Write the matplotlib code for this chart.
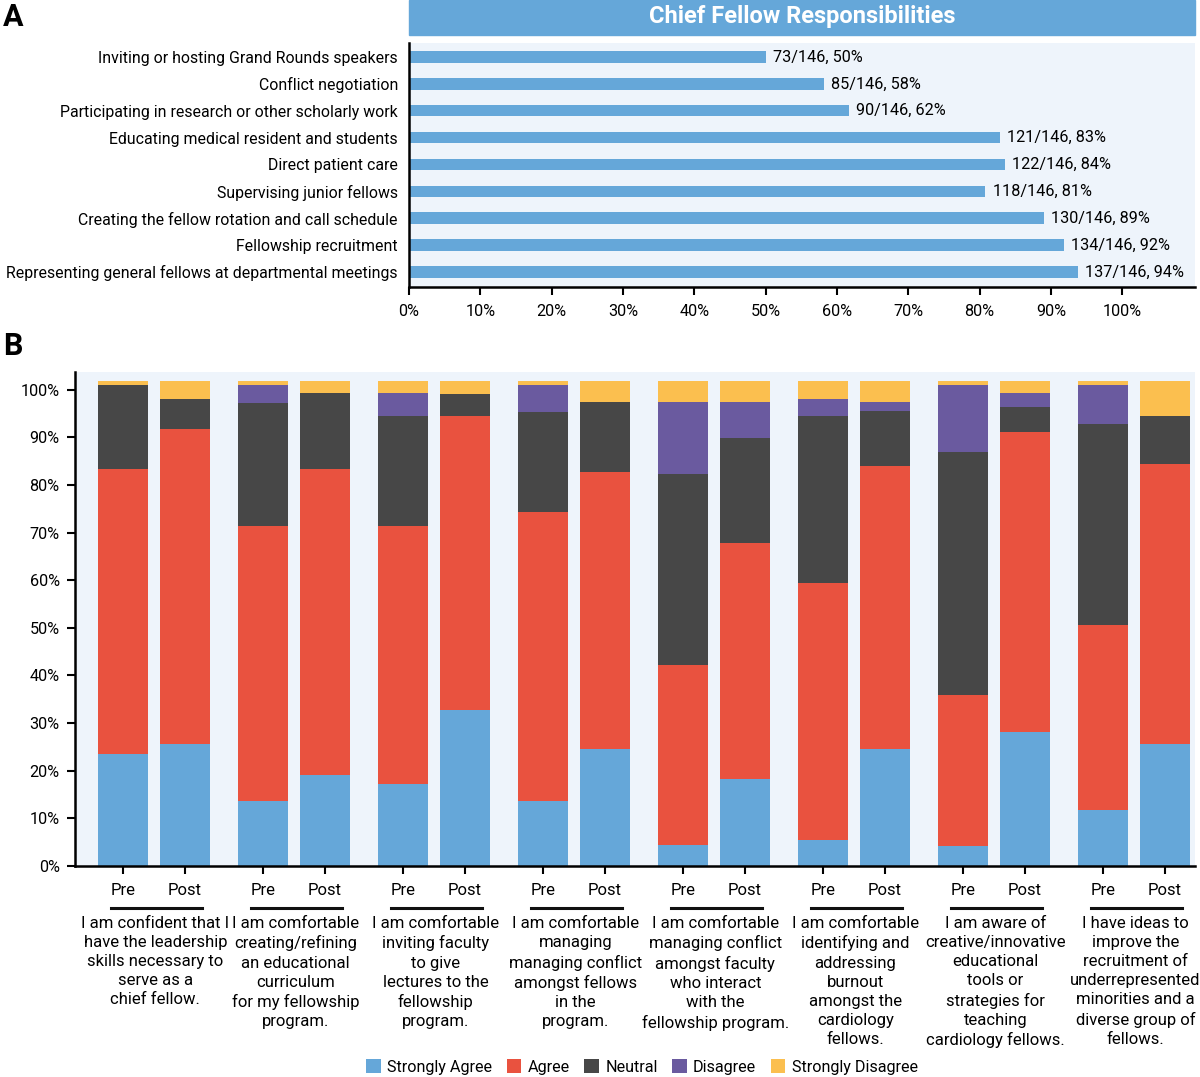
import matplotlib
matplotlib.use("Agg")
import matplotlib.pyplot as plt
from matplotlib.patches import Rectangle, Patch
from matplotlib.lines import Line2D
import numpy as np

plt.rcParams['font.family'] = ['Roboto', 'DejaVu Sans']

# ---------------- Panel A data ----------------
resp_labels = [
    "Inviting or hosting Grand Rounds speakers",
    "Conflict negotiation",
    "Participating in research or other scholarly work",
    "Educating medical resident and students",
    "Direct patient care",
    "Supervising junior fellows",
    "Creating the fellow rotation and call schedule",
    "Fellowship recruitment",
    "Representing general fellows at departmental meetings",
]
resp_counts = [73, 85, 90, 121, 122, 118, 130, 134, 137]
resp_total = 146
resp_ticks = [0, 10, 20, 30, 40, 50, 60, 70, 80, 90, 100]

# ---------------- Panel B data ----------------
questions = [
    "I am confident that I\nhave the leadership\nskills necessary to\nserve as a\nchief fellow.",
    "I am comfortable\ncreating/refining\nan educational\ncurriculum\nfor my fellowship\nprogram.",
    "I am comfortable\ninviting faculty\nto give\nlectures to the\nfellowship\nprogram.",
    "I am comfortable\nmanaging\nmanaging conflict\namongst fellows\nin the\nprogram.",
    "I am comfortable\nmanaging conflict\namongst faculty\nwho interact\nwith the\nfellowship program.",
    "I am comfortable\nidentifying and\naddressing\nburnout\namongst the\ncardiology\nfellows.",
    "I am aware of\ncreative/innovative\neducational\ntools or\nstrategies for\nteaching\ncardiology fellows.",
    "I have ideas to\nimprove the\nrecruitment of\nunderrepresented\nminorities and a\ndiverse group of\nfellows.",
]
phases = ["Pre", "Post"]
categories = ["Strongly Agree", "Agree", "Neutral", "Disagree", "Strongly Disagree"]
# values per question (in %)
strongly_agree_pre  = [23.6, 13.6, 17.3, 13.6,  4.5,  5.4,  4.2, 11.7]
strongly_agree_post = [25.7, 19.2, 32.7, 24.5, 18.3, 24.5, 28.2, 25.7]
agree_pre           = [59.8, 57.8, 54.1, 60.7, 37.7, 54.0, 31.6, 38.8]
agree_post          = [66.0, 64.2, 61.7, 58.2, 49.6, 59.4, 62.8, 58.7]
neutral_pre         = [17.5, 25.8, 23.0, 21.0, 40.1, 35.1, 51.1, 42.2]
neutral_post        = [ 6.3, 15.8,  4.7, 14.7, 22.0, 11.6,  5.4, 10.1]
disagree_pre        = [ 0.0,  3.7,  4.8,  5.6, 15.0,  3.6, 14.0,  8.3]
disagree_post       = [ 0.0,  0.0,  0.0,  0.0,  7.4,  1.9,  2.8,  0.0]
strongly_dis_pre    = [ 1.0,  1.0,  2.7,  1.0,  4.6,  3.8,  1.0,  0.9]
strongly_dis_post   = [ 3.9,  2.7,  2.8,  4.5,  4.6,  4.5,  2.7,  7.4]
b_ticks = [0, 10, 20, 30, 40, 50, 60, 70, 80, 90, 100]

colors = ["#65a7d9", "#e9523f", "#474747", "#6a5a9f", "#fbbf4f"]
bg = "#eef4fb"
title_blue = "#65a7d9"

W, H = 1200, 1077
fig = plt.figure(figsize=(W / 100, H / 100), dpi=100)

def fx(px):
    return px / W

def fy(py):
    return 1 - py / H

# ---------------- Panel A ----------------
axA = fig.add_axes([fx(409), fy(287), fx(1195) - fx(409), fy(43) - fy(287)])
axA.set_facecolor(bg)
pcts = [c / resp_total * 100 for c in resp_counts]
ypos = np.arange(len(resp_labels))
axA.barh(ypos, pcts, height=0.43, color=title_blue)
for y, c, p in zip(ypos, resp_counts, pcts):
    axA.text(p + 1.0, y, f"{c}/{resp_total}, {p:.0f}%", va="center", ha="left", fontsize=11.7)
axA.set_yticks(ypos)
axA.set_yticklabels(resp_labels, fontsize=11.4)
axA.tick_params(axis="y", length=0, pad=8)
axA.set_ylim(8.56, -0.52)
axA.set_xlim(0, 110.2)
axA.set_xticks(resp_ticks)
axA.set_xticklabels([f"{t}%" for t in resp_ticks], fontsize=11.7)
axA.tick_params(axis="x", length=6, width=1.5, pad=6, direction="out")
for s in ["top", "right"]:
    axA.spines[s].set_visible(False)
for s in ["left", "bottom"]:
    axA.spines[s].set_linewidth(1.8)

# title bar
fig.patches.append(Rectangle((fx(409), fy(35)), fx(1195) - fx(409), fy(0) - fy(35),
                             transform=fig.transFigure, color=title_blue, zorder=0))
fig.text((fx(409) + fx(1195)) / 2, fy(17), "Chief Fellow Responsibilities", color="white",
         fontsize=17, fontweight="bold", ha="center", va="center")

fig.text(fx(3), fy(17), "A", fontsize=22, fontweight="bold", ha="left", va="center")
fig.text(fx(3), fy(346), "B", fontsize=22, fontweight="bold", ha="left", va="center")

# ---------------- Panel B ----------------
axB = fig.add_axes([fx(75), fy(866), fx(1195) - fx(75), fy(372) - fy(866)])
axB.set_facecolor(bg)
pre_vals = [strongly_agree_pre, agree_pre, neutral_pre, disagree_pre, strongly_dis_pre]
post_vals = [strongly_agree_post, agree_post, neutral_post, disagree_post, strongly_dis_post]
ng = len(questions)
gx = np.arange(ng)
post_off = 0.443
bw = 0.354
for vals, off in [(pre_vals, 0.0), (post_vals, post_off)]:
    bottom = np.zeros(ng)
    for ci, v in enumerate(vals):
        v = np.array(v)
        axB.bar(gx + off, v, width=bw, bottom=bottom, color=colors[ci])
        bottom += v

axB.set_xlim(-0.343, 7.657)
axB.set_ylim(0, 103.7)
axB.set_yticks(b_ticks)
axB.set_yticklabels([f"{t}%" for t in b_ticks], fontsize=11.7)
xt = np.concatenate([gx, gx + post_off])
xl = [phases[0]] * ng + [phases[1]] * ng
order = np.argsort(xt)
axB.set_xticks(xt[order])
axB.set_xticklabels([xl[i] for i in order], fontsize=12)
axB.tick_params(axis="both", length=6, width=1.5, direction="out")
axB.tick_params(axis="x", pad=6)
axB.tick_params(axis="y", pad=5)
for s in ["top", "right"]:
    axB.spines[s].set_visible(False)
for s in ["left", "bottom"]:
    axB.spines[s].set_linewidth(1.8)

ah = 866 - 372
trans = axB.get_xaxis_transform()
for g in gx:
    axB.add_line(Line2D([g - 0.085, g + post_off + 0.12], [-(907.7 - 866) / ah] * 2,
                        transform=trans, color="#111111", linewidth=2.2, clip_on=False))
    axB.text(g + post_off / 2 + 0.01, -(916 - 866) / ah, questions[g], transform=trans,
             ha="center", va="top", fontsize=12, linespacing=1.34)

handles = [Patch(facecolor=c, edgecolor="none") for c in colors]
fig.legend(handles, categories, loc="center", bbox_to_anchor=(fx(642), fy(1067)),
           ncol=5, frameon=False, fontsize=11.6, handlelength=0.9, handleheight=0.9,
           handletextpad=0.4, columnspacing=0.9, borderaxespad=0, borderpad=0)

fig.savefig("out.png", dpi=100)
